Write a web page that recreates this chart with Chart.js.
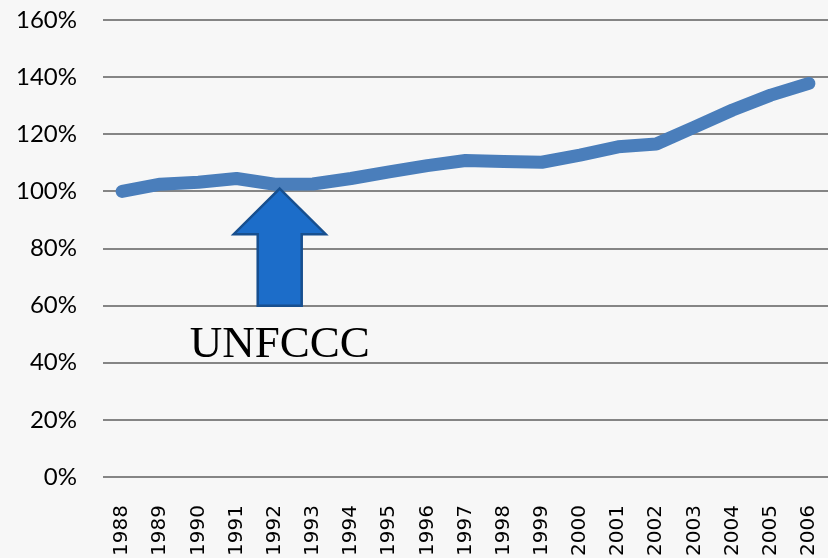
<!DOCTYPE html>
<html>
<head>
<meta charset="utf-8">
<script src="https://cdn.jsdelivr.net/npm/chart.js@4/dist/chart.umd.min.js"></script>
<style>
  html, body { margin: 0; padding: 0; background: #f7f7f7; }
  canvas { display: block; }
</style>
</head>
<body>
<canvas id="emissoesChart" width="828" height="558"></canvas>
<script>
// anos e indice de emissoes (1988 = 100%)
const anos = ['1988','1989','1990','1991','1992','1993','1994','1995','1996','1997',
              '1998','1999','2000','2001','2002','2003','2004','2005','2006'];
const indice = [100, 102.5, 103.2, 104.5, 102.5, 102.6, 104.5, 106.8, 109, 110.8,
                110.5, 110.2, 112.7, 115.6, 116.6, 122.5, 128.5, 133.7, 137.8];
const yTicks = [0, 20, 40, 60, 80, 100, 120, 140, 160];

// ano marcado pela seta
const anoSeta = '1992';
const textoSeta = 'UNFCCC';

const fundo = {
    id: 'fundo',
    beforeDraw(chart) {
        const ctx = chart.ctx;
        ctx.save();
        ctx.fillStyle = '#f7f7f7';
        ctx.fillRect(0, 0, chart.width, chart.height);
        ctx.restore();
    }
};

const seta = {
    id: 'seta',
    afterDatasetsDraw(chart) {
        const ctx = chart.ctx;
        const x = chart.scales.x.getPixelForValue(anos.indexOf(anoSeta)) + 5;
        const topo = chart.scales.y.getPixelForValue(101);
        const base = chart.scales.y.getPixelForValue(60);
        const cabeca = chart.scales.y.getPixelForValue(85);
        ctx.save();
        ctx.beginPath();
        ctx.moveTo(x, topo);
        ctx.lineTo(x + 46, cabeca);
        ctx.lineTo(x + 22, cabeca);
        ctx.lineTo(x + 22, base);
        ctx.lineTo(x - 22, base);
        ctx.lineTo(x - 22, cabeca);
        ctx.lineTo(x - 46, cabeca);
        ctx.closePath();
        ctx.fillStyle = '#1c6dc9';
        ctx.fill();
        ctx.lineWidth = 2.5;
        ctx.strokeStyle = '#174f8f';
        ctx.stroke();

        ctx.fillStyle = '#000';
        ctx.font = '45px "Liberation Serif", serif';
        ctx.textAlign = 'center';
        ctx.textBaseline = 'alphabetic';
        ctx.fillText(textoSeta, x, chart.scales.y.getPixelForValue(42));
        ctx.restore();
    }
};

const ctx = document.getElementById('emissoesChart').getContext('2d');
new Chart(ctx, {
    type: 'line',
    data: {
        labels: anos,
        datasets: [{
            data: indice,
            borderColor: '#4a7ebb',
            borderWidth: 13,
            borderCapStyle: 'round',
            borderJoinStyle: 'round',
            pointRadius: 0,
            tension: 0,
            fill: false
        }]
    },
    options: {
        responsive: false,
        animation: false,
        layout: { padding: { top: 20, right: 0, left: 0, bottom: 0 } },
        plugins: { legend: { display: false }, tooltip: { enabled: false } },
        scales: {
            x: {
                offset: true,
                grid: { display: false },
                border: { display: false },
                afterFit(axis) {
                    axis.height = 81;
                    axis.paddingLeft = 0;
                    axis.paddingRight = 0;
                },
                ticks: {
                    minRotation: 90,
                    maxRotation: 90,
                    autoSkip: false,
                    padding: 20,
                    color: '#000',
                    font: { family: "'DejaVu Sans', sans-serif", size: 20 }
                }
            },
            y: {
                min: 0,
                max: 160,
                afterBuildTicks(axis) { axis.ticks = yTicks.map(v => ({ value: v })); },
                afterFit(axis) {
                    axis.width = 103;
                    axis.paddingTop = 0;
                    axis.paddingBottom = 0;
                },
                grid: { color: '#858585', lineWidth: 2, drawTicks: false },
                border: { display: false },
                ticks: {
                    padding: 26,
                    color: '#000',
                    font: { family: 'Lato', size: 24 },
                    callback: v => v + '%'
                }
            }
        }
    },
    plugins: [fundo, seta]
});
</script>
</body>
</html>
